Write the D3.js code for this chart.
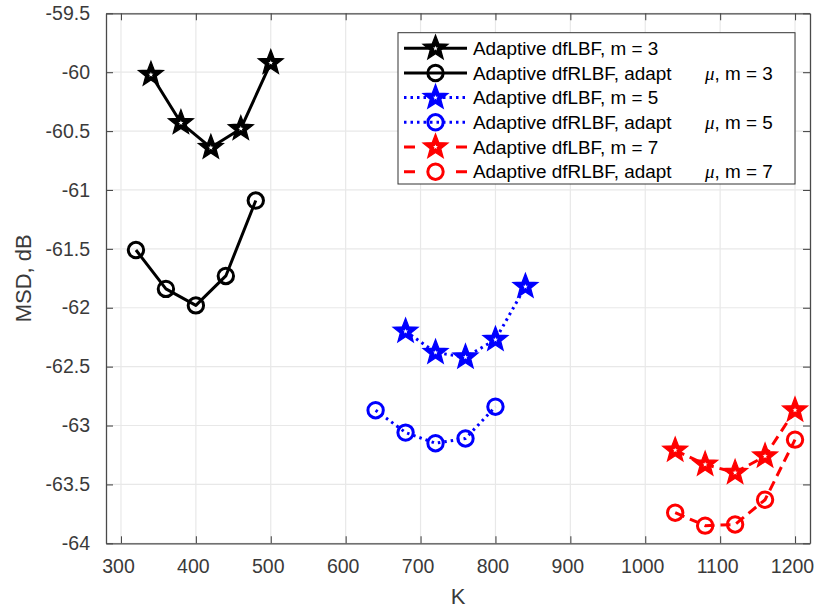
<!DOCTYPE html>
<html><head><meta charset="utf-8">
<script src="https://cdn.jsdelivr.net/npm/d3@7"></script>
<style>body{margin:0;background:#fff}svg{display:block}</style>
</head><body>
<script>
const kTicks = [300,400,500,600,700,800,900,1000,1100,1200];
const msdTicks = [-59.5,-60,-60.5,-61,-61.5,-62,-62.5,-63,-63.5,-64];
const kTickLabels = kTicks.map(String);
const msdTickLabels = msdTicks.map(String);

const kStar3 = [340,380,420,460,500];
const msdStar3 = [-60.02,-60.43,-60.64,-60.48,-59.92];
const kCirc3 = [320,360,400,440,480];
const msdCirc3 = [-61.51,-61.84,-61.98,-61.73,-61.09];
const kStar5 = [680,720,760,800,840];
const msdStar5 = [-62.20,-62.38,-62.42,-62.27,-61.82];
const kCirc5 = [640,680,720,760,800];
const msdCirc5 = [-62.87,-63.06,-63.15,-63.11,-62.84];
const kStar7 = [1040,1080,1120,1160,1200];
const msdStar7 = [-63.21,-63.33,-63.40,-63.26,-62.87];
const kCirc7 = [1040,1080,1120,1160,1200];
const msdCirc7 = [-63.74,-63.85,-63.84,-63.63,-63.12];

const legendMain = ["Adaptive dfLBF, m = 3","Adaptive dfRLBF, adapt","Adaptive dfLBF, m = 5","Adaptive dfRLBF, adapt","Adaptive dfLBF, m = 7","Adaptive dfRLBF, adapt"];
const legendTail = [null,", m = 3",null,", m = 5",null,", m = 7"];

const series = [
  {k:kStar3, v:msdStar3, color:"#000000", dash:null, marker:"star", legDash:null},
  {k:kCirc3, v:msdCirc3, color:"#000000", dash:null, marker:"circle", legDash:null},
  {k:kStar5, v:msdStar5, color:"#0000ff", dash:"2.5,4", marker:"star", legDash:"2.5,4"},
  {k:kCirc5, v:msdCirc5, color:"#0000ff", dash:"2.5,4", marker:"circle", legDash:"2.5,4"},
  {k:kStar7, v:msdStar7, color:"#ff0000", dash:"10,6", marker:"star", legDash:"11,41"},
  {k:kCirc7, v:msdCirc7, color:"#ff0000", dash:"10,6", marker:"circle", legDash:"11,41"}
];

const W = 814, H = 609;
const L = 106, R = 810, T = 13.3, B = 543.3;
const svg = d3.select("body").append("svg").attr("width",W).attr("height",H);
const x = d3.scaleLinear().domain([280,1220]).range([L,R]);
const y = d3.scaleLinear().domain([-64,-59.5]).range([B,T]);
const font = "'Liberation Sans', Arial, Helvetica, sans-serif";
const axisColor = "#4a4a4a";

// grid
const g = svg.append("g");
g.selectAll(".gx").data(kTicks).enter().append("line")
  .attr("x1",d=>x(d)).attr("x2",d=>x(d)).attr("y1",T).attr("y2",B)
  .attr("stroke","#e8e8e8").attr("stroke-width",1.2);
g.selectAll(".gy").data(msdTicks).enter().append("line")
  .attr("y1",d=>y(d)).attr("y2",d=>y(d)).attr("x1",L).attr("x2",R)
  .attr("stroke","#e8e8e8").attr("stroke-width",1.2);

// axes with d3 axis generators (inner ticks)
const tl = 7;
const xAxisB = d3.axisBottom(x).tickValues(kTicks).tickFormat((d,i)=>kTickLabels[i]).tickSizeInner(-tl).tickSizeOuter(0).tickPadding(16);
const xAxisT = d3.axisTop(x).tickValues(kTicks).tickFormat("").tickSizeInner(-tl).tickSizeOuter(0);
const yAxisL = d3.axisLeft(y).tickValues(msdTicks).tickFormat((d,i)=>msdTickLabels[i]).tickSizeInner(-tl).tickSizeOuter(0).tickPadding(16);
const yAxisR = d3.axisRight(y).tickValues(msdTicks).tickFormat("").tickSizeInner(-tl).tickSizeOuter(0);

function styleAxis(sel){
  sel.select(".domain").attr("stroke",axisColor).attr("stroke-width",1.3);
  sel.selectAll(".tick line").attr("stroke",axisColor).attr("stroke-width",1.1);
  sel.selectAll(".tick text").attr("fill","#3a3a3a").style("font-family",font).style("font-size","19.5px");
}
const xb = svg.append("g").attr("transform",`translate(0,${B})`).call(xAxisB);
styleAxis(xb);
xb.selectAll(".tick text").attr("dx","-3");
styleAxis(svg.append("g").attr("transform",`translate(0,${T})`).call(xAxisT));
styleAxis(svg.append("g").attr("transform",`translate(${L},0)`).call(yAxisL));
styleAxis(svg.append("g").attr("transform",`translate(${R},0)`).call(yAxisR));

// axis labels
svg.append("text").attr("x",(L+R)/2).attr("y",604).attr("text-anchor","middle")
  .style("font-family",font).style("font-size","22px").attr("fill","#3a3a3a").text("K");
svg.append("text").attr("transform",`translate(31,${(T+B)/2}) rotate(-90)`).attr("text-anchor","middle")
  .style("font-family",font).style("font-size","22px").attr("fill","#3a3a3a").text("MSD, dB");

// markers
function starPath(r, ri){
  const pts=[];
  for(let i=0;i<10;i++){
    const a = -Math.PI/2 + i*Math.PI/5;
    const rr = i%2===0 ? r : ri;
    pts.push([rr*Math.cos(a), rr*Math.sin(a)]);
  }
  return "M"+pts.map(p=>p[0].toFixed(2)+","+p[1].toFixed(2)).join("L")+"Z";
}
const bigStar = starPath(13, 5.5);
const tinyStar = starPath(2.6, 1.1);

function drawMarker(sel, type, color){
  if(type==="star"){
    sel.append("path").attr("d",bigStar).attr("fill",color).attr("stroke",color).attr("stroke-width",1.3).attr("stroke-linejoin","miter");
    sel.append("path").attr("d",tinyStar).attr("fill","#fff");
  } else {
    sel.append("circle").attr("r",7.7).attr("fill","none").attr("stroke",color).attr("stroke-width",3);
  }
}

const line = d3.line().x(d=>x(d[0])).y(d=>y(d[1]));
series.forEach(s=>{
  const pts = s.k.map((k,i)=>[k,s.v[i]]);
  const p = svg.append("path").attr("d",line(pts)).attr("fill","none")
    .attr("stroke",s.color).attr("stroke-width",3).attr("stroke-linejoin","round");
  if(s.dash) p.attr("stroke-dasharray",s.dash);
  pts.forEach(d=>{
    const m = svg.append("g").attr("transform",`translate(${x(d[0])},${y(d[1])})`);
    drawMarker(m, s.marker, s.color);
  });
});

// legend
const lg = svg.append("g");
lg.append("rect").attr("x",398).attr("y",32.7).attr("width",397).attr("height",151.3)
  .attr("fill","#fff").attr("stroke","#333").attr("stroke-width",1);
const rowY = [48.3,73.0,97.6,122.3,147.0,171.7];
series.forEach((s,i)=>{
  const yy = rowY[i];
  const ln = lg.append("line").attr("x1",404).attr("x2",467).attr("y1",yy).attr("y2",yy)
    .attr("stroke",s.color).attr("stroke-width",3);
  if(s.legDash) ln.attr("stroke-dasharray",s.legDash);
  drawMarker(lg.append("g").attr("transform",`translate(435.5,${yy})`), s.marker, s.color);
  const t = lg.append("text").attr("x",473).attr("y",yy).attr("dy","0.35em")
    .style("font-family",font).style("font-size","18.9px").attr("fill","#000");
  t.append("tspan").text(legendMain[i]);
  if(legendTail[i]){
    t.append("tspan").attr("x",705).style("font-family","'Liberation Serif', 'Times New Roman', serif").style("font-style","italic").text("μ");
    t.append("tspan").text(legendTail[i]);
  }
});
</script>
</body></html>
